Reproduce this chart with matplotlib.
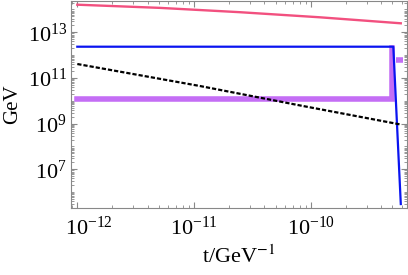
import numpy as np
import matplotlib
matplotlib.use('Agg')
import matplotlib.pyplot as plt
import matplotlib.transforms as mtransforms
from matplotlib.ticker import LogLocator, FixedLocator, NullFormatter

plt.rcParams['font.family'] = 'Liberation Serif'
plt.rcParams['mathtext.fontset'] = 'stix'

# curves as log10 values (t in GeV^-1, energy in GeV)
pink_logt = [-12.0, -11.29, -10.607, -9.923, -9.23]
pink_logE = [14.209, 14.069, 13.880, 13.657, 13.394]

blue_logt = [-12.0, -9.294, -9.23]
blue_logE = [12.369, 12.369, 5.479]

purple_logt = [-12.0, -9.302, -9.302]
purple_logE = [10.057, 10.057, 12.33]
purple_tail_logt = [-9.27, -9.21]
purple_tail_logE = [11.787, 11.787]

black_logt = [-12.0, -10.95, -10.09, -9.23]
black_logE = [11.611, 10.648, 9.794, 8.961]

fig = plt.figure(figsize=(4.08, 2.75), dpi=100)
ax = fig.add_axes([0.174, 0.2436, 0.8235, 0.7528])

def p(lt, le):
    return 10.0 ** np.array(lt), 10.0 ** np.array(le)

ax.plot(*p(purple_logt, purple_logE), color='#c46ef5', lw=4, solid_joinstyle='miter')
ax.plot(*p(purple_tail_logt, purple_tail_logE), color='#c46ef5', lw=4, solid_capstyle='butt')
ax.plot(*p(pink_logt, pink_logE), color='#f2507f', lw=1.7)
ax.plot(*p(blue_logt, blue_logE), color='#0a14f0', lw=1.6)
ax.plot(*p(black_logt, black_logE), color='black', lw=1.6, ls=(0, (1.9, 0.9)))

ax.set_xscale('log')
ax.set_yscale('log')
ax.set_xlim(10 ** -12.054, 10 ** -9.177)
ax.set_ylim(10 ** 5.305, 10 ** 14.371)

ax.xaxis.set_major_locator(FixedLocator([1e-12, 1e-11, 1e-10]))
ax.xaxis.set_minor_locator(LogLocator(base=10, subs=np.arange(2, 10), numticks=20))
ax.yaxis.set_major_locator(FixedLocator([1e7, 1e9, 1e11, 1e13]))
ax.yaxis.set_minor_locator(LogLocator(base=10, subs=np.arange(1, 10), numticks=30))
ax.xaxis.set_minor_formatter(NullFormatter())
ax.yaxis.set_minor_formatter(NullFormatter())

ax.tick_params(which='both', direction='in', top=True, right=True, colors='#888888',
               labelcolor='black', labelsize=16)
ax.tick_params(which='major', length=4)
ax.tick_params(which='minor', length=2)
ax.tick_params(axis='x', pad=6)
ax.tick_params(axis='y', pad=3)
for s in ax.spines.values():
    s.set_color('#888888')

ax.set_xlabel(r't/GeV$^{-1}$', fontsize=16, labelpad=4)
ax.set_ylabel('GeV', fontsize=15, labelpad=4)

# the first x label sits a bit to the right of its tick in the original
fig.canvas.draw()
first = ax.get_xticklabels()[0]
first.set_transform(first.get_transform() + mtransforms.ScaledTranslation(12 / 100, 0, fig.dpi_scale_trans))

fig.savefig('out.png', dpi=100)
